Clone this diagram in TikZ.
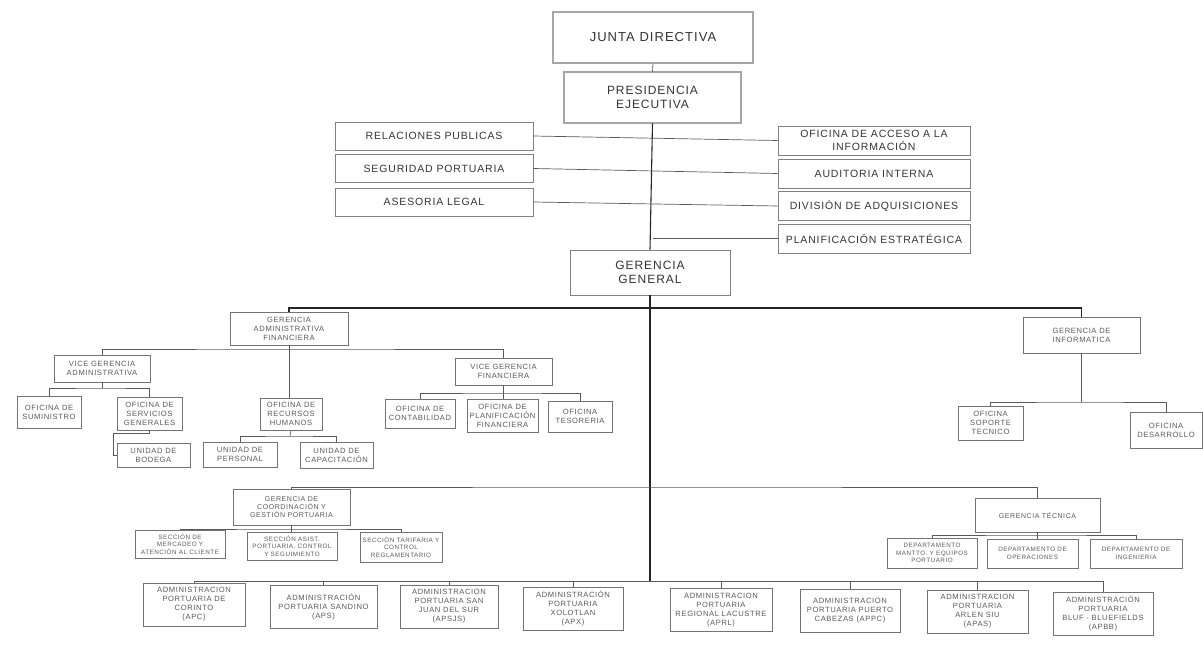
\documentclass[tikz,border=0pt]{standalone}
\usepackage{fontspec}
\setmainfont[LetterSpace=8]{Liberation Sans}

\begin{document}
\begin{tikzpicture}[x=1pt,y=-1pt,
    topbox/.style={draw=black!65, double=black!35, double distance=1.4pt, line width=0.7pt, text=black!80, align=center, inner sep=1pt},
    medbox/.style={draw=black!50, line width=0.8pt, text=black!80, align=center, inner sep=1pt, font=\fontsize{10.5}{12.5}\selectfont},
    smallbox/.style={draw=black!55, line width=0.6pt, text=black!65, align=center, inner sep=1pt, font=\fontsize{7.6}{9}\selectfont},
    midbox/.style={smallbox, font=\fontsize{7}{8.4}\selectfont},
    tinybox/.style={smallbox, font=\fontsize{6.3}{7.5}\selectfont},
    link/.style={draw=black!65, line width=0.7pt},
    mainlink/.style={draw=black!85, line width=1.1pt}]
    \useasboundingbox (0,0) rectangle (1203,648);

    % Direccion superior
    \node[topbox, minimum width=200, minimum height=51, font=\fontsize{13}{15}\selectfont] (jd) at (653,37.5) {JUNTA DIRECTIVA};
    \node[topbox, minimum width=177, minimum height=51, font=\fontsize{12}{14.5}\selectfont] (pe) at (652.5,97.5) {PRESIDENCIA\\EJECUTIVA};
    \node[medbox, minimum width=160, minimum height=45, font=\fontsize{12}{14.5}\selectfont] (gg) at (650,272.5) {GERENCIA\\GENERAL};

    % Oficinas de staff
    \foreach \name/\y/\txt in {rp/136/RELACIONES PUBLICAS, sp/168.5/SEGURIDAD PORTUARIA, al/202/ASESORIA LEGAL}
        \node[medbox, minimum width=198, minimum height=28] (\name) at (434,\y) {\txt};
    \foreach \name/\y/\txt in {oa/140.5/{OFICINA DE ACCESO A LA\\INFORMACIÓN}, ai/173.5/AUDITORIA INTERNA,
        da/206/DIVISIÓN DE ADQUISICIONES, pl/238.5/PLANIFICACIÓN ESTRATÉGICA}
        \node[medbox, minimum width=192, minimum height=29] (\name) at (874,\y) {\txt};

    \draw[link] (jd.south) -- (pe.north);
    \draw[mainlink] (pe.south) -- (gg.north);
    \draw[link] (rp.east) -- (oa.west);
    \draw[link] (sp.east) -- (ai.west);
    \draw[link] (al.east) -- (da.west);
    \draw[link] (pl.west) -- (pl.west -| pe.south);

    % Gerencias
    \coordinate (busg) at (650,308);
    \coordinate (busm) at (650,487);
    \coordinate (busb) at (650,581);
    \node[smallbox, minimum width=118, minimum height=33] (gaf) at (289,328.5) {GERENCIA\\ADMINISTRATIVA\\FINANCIERA};
    \node[smallbox, minimum width=117, minimum height=36] (gi) at (1081.5,335) {GERENCIA DE\\INFORMATICA};
    \node[midbox, minimum width=117, minimum height=36] (gcgp) at (291.5,507) {GERENCIA DE\\COORDINACIÓN Y\\GESTIÓN PORTUARIA};
    \node[midbox, minimum width=125, minimum height=34] (gt) at (1037.5,515) {GERENCIA TÉCNICA};

    \draw[mainlink] (gg.south) -- (busb);
    \draw[mainlink] (gaf.north) |- (busg) -| (gi.north);
    \draw[link] (gcgp.north) |- (busm) -| (gt.north);

    % Gerencia administrativa financiera
    \coordinate (busa) at (289,349);
    \node[smallbox, minimum width=96, minimum height=27] (vga) at (102,368.5) {VICE GERENCIA\\ADMINISTRATIVA};
    \node[smallbox, minimum width=97, minimum height=27] (vgf) at (503.5,371.5) {VICE GERENCIA\\FINANCIERA};
    \node[smallbox, minimum width=62, minimum height=32] (rh) at (291,414) {OFICINA DE\\RECURSOS\\HUMANOS};
    \draw[link] (vga.north) |- (busa) -| (vgf.north);
    \draw[link] (gaf.south) -- (gaf.south |- rh.north);

    \coordinate (busva) at (102,388);
    \node[smallbox, minimum width=64, minimum height=32] (sum) at (49,412) {OFICINA DE\\SUMINISTRO};
    \node[smallbox, minimum width=65, minimum height=33] (sg) at (149.5,413.5) {OFICINA DE\\SERVICIOS\\GENERALES};
    \node[smallbox, minimum width=73, minimum height=24] (ub) at (153.5,455) {UNIDAD DE\\BODEGA};
    \draw[link] (vga.south) -- (busva);
    \draw[link] (sum.north) |- (busva) -| (sg.north);
    \coordinate (bk) at (113,433);
    \draw[link] (sg.south) |- (bk) |- (ub.west);

    \coordinate (busrh) at (290,436);
    \node[smallbox, minimum width=74, minimum height=25] (up) at (240,454.5) {UNIDAD DE\\PERSONAL};
    \node[smallbox, minimum width=73, minimum height=26] (uc) at (336.5,455) {UNIDAD DE\\CAPACITACIÓN};
    \draw[link] (rh.south) -- (busrh);
    \draw[link] (up.north) |- (busrh) -| (uc.north);

    \coordinate (busvf) at (503.5,393);
    \node[smallbox, minimum width=70, minimum height=29] (cont) at (420,413.5) {OFICINA DE\\CONTABILIDAD};
    \node[smallbox, minimum width=71, minimum height=33] (pf) at (502.5,415.5) {OFICINA DE\\PLANIFICACIÓN\\FINANCIERA};
    \node[smallbox, minimum width=64, minimum height=31] (tes) at (580,416.5) {OFICINA\\TESORERIA};
    \draw[link] (vgf.south) -- (vgf.south |- pf.north);
    \draw[link] (cont.north) |- (busvf) -| (tes.north);

    % Gerencia de informatica
    \coordinate (busgi) at (1081.5,402);
    \node[smallbox, minimum width=65, minimum height=34] (sop) at (990.5,423) {OFICINA\\SOPORTE\\TECNICO};
    \node[smallbox, minimum width=72, minimum height=36] (des) at (1166,430) {OFICINA\\DESARROLLO};
    \draw[link] (gi.south) -- (busgi);
    \draw[link] (sop.north) |- (busgi) -| (des.north);

    % Secciones y departamentos
    \coordinate (busgc) at (291.5,529);
    \node[tinybox, minimum width=90, minimum height=28] (mer) at (180,544) {SECCIÓN DE\\MERCADEO Y\\ATENCIÓN AL CLIENTE};
    \node[tinybox, minimum width=90, minimum height=28] (asi) at (292,546) {SECCIÓN ASIST.\\PORTUARIA, CONTROL\\Y SEGUIMIENTO};
    \node[tinybox, minimum width=82, minimum height=30] (tar) at (401,547) {SECCIÓN TARIFARIA Y\\CONTROL\\REGLAMENTARIO};
    \draw[link] (gcgp.south) -- (gcgp.south |- asi.north);
    \draw[link] (mer.north) |- (busgc) -| (tar.north);

    \coordinate (busgt) at (1037.5,535);
    \node[tinybox, minimum width=90, minimum height=30] (man) at (932,553) {DEPARTAMENTO\\MANTTO. Y EQUIPOS\\PORTUARIO};
    \node[tinybox, minimum width=91, minimum height=29] (ope) at (1032.5,553.5) {DEPARTAMENTO DE\\OPERACIONES};
    \node[tinybox, minimum width=92, minimum height=29] (ing) at (1136,553.5) {DEPARTAMENTO DE\\INGENIERIA};
    \draw[link] (gt.south) -- (gt.south |- ope.north);
    \draw[link] (man.north) |- (busgt) -| (ing.north);

    % Administraciones portuarias
    \foreach \name/\x/\y/\w/\txt in {
        apc/194/604.5/102/{ADMINISTRACION\\PORTUARIA DE\\CORINTO\\(APC)},
        aps/323.5/606.5/107/{ADMINISTRACIÓN\\PORTUARIA SANDINO\\(APS)},
        apsjs/449/606.5/98/{ADMINISTRACION\\PORTUARIA SAN\\JUAN DEL SUR\\(APSJS)},
        apx/573/608.5/100/{ADMINISTRACIÓN\\PORTUARIA\\XOLOTLAN\\(APX)},
        aprl/721/610/102/{ADMINISTRACION\\PORTUARIA\\REGIONAL LACUSTRE\\(APRL)},
        appc/850/611/100/{ADMINISTRACION\\PORTUARIA PUERTO\\CABEZAS (APPC)},
        apas/977.5/611.5/101/{ADMINISTRACION\\PORTUARIA\\ARLEN SIU\\(APAS)},
        apbb/1103/613.5/100/{ADMINISTRACIÓN\\PORTUARIA\\BLUF - BLUEFIELDS\\(APBB)}} {
        \node[smallbox, minimum width=\w, minimum height=43] (\name) at (\x,\y) {\txt};
        \draw[link] (\name.north) -- (\name.north |- busb);
    }
    \draw[link] (apc.north |- busb) -- (apbb.north |- busb);
\end{tikzpicture}
\end{document}
